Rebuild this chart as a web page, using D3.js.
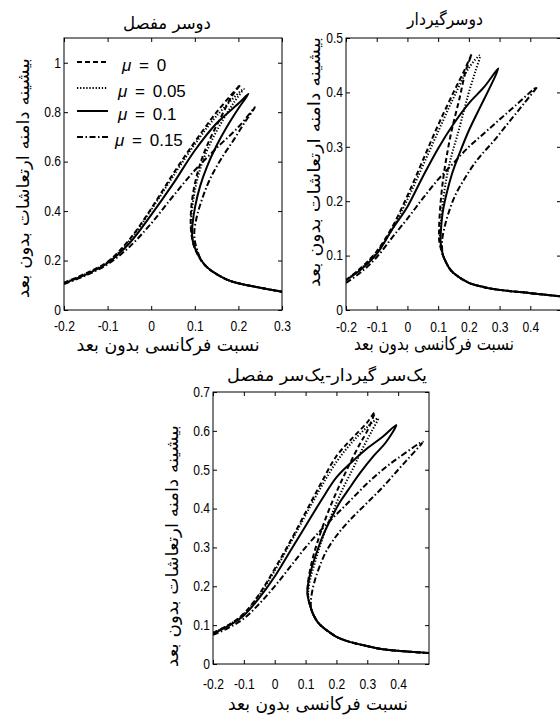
<!DOCTYPE html>
<html>
<head>
<meta charset="utf-8">
<script src="https://cdn.jsdelivr.net/npm/d3@7"></script>
<style>body{margin:0;background:#fff}</style>
</head>
<body>
<svg id="chart" width="560" height="722"></svg>
<script>
// values (x: frequency ratio, y: peak amplitude)
const muLabels = ["0", "0.05", "0.1", "0.15"];

// --- both ends hinged
const hingedLower = [[0.115,0.20],[0.13,0.17],[0.15,0.145],[0.175,0.122],[0.2,0.108],[0.25,0.09],[0.3,0.074]];
const hinged0 = [[-0.2,0.11],[-0.15,0.148],[-0.1,0.195],[-0.05,0.285],[0,0.41],[0.05,0.55],[0.1,0.68],[0.15,0.80],[0.205,0.912],
  [0.185,0.865],[0.16,0.78],[0.137,0.70],[0.118,0.62],[0.104,0.54],[0.095,0.46],[0.091,0.39],[0.091,0.33],[0.095,0.28],[0.102,0.24]];
const hinged05 = [[-0.2,0.11],[-0.15,0.146],[-0.1,0.193],[-0.05,0.28],[0,0.405],[0.05,0.54],[0.1,0.67],[0.15,0.785],[0.212,0.895],
  [0.19,0.84],[0.165,0.77],[0.14,0.69],[0.12,0.61],[0.106,0.53],[0.097,0.45],[0.092,0.38],[0.092,0.32],[0.096,0.275],[0.103,0.24]];
const hinged10 = [[-0.2,0.108],[-0.15,0.143],[-0.1,0.19],[-0.05,0.27],[0,0.385],[0.05,0.51],[0.1,0.645],[0.15,0.755],[0.2,0.835],[0.223,0.874],
  [0.2,0.815],[0.175,0.745],[0.15,0.665],[0.128,0.58],[0.112,0.5],[0.101,0.42],[0.095,0.35],[0.094,0.30],[0.098,0.26],[0.105,0.235]];
const hinged15 = [[-0.2,0.105],[-0.15,0.14],[-0.1,0.185],[-0.05,0.255],[0,0.35],[0.05,0.46],[0.1,0.565],[0.15,0.655],[0.2,0.74],[0.238,0.82],
  [0.215,0.76],[0.19,0.69],[0.16,0.61],[0.135,0.53],[0.117,0.45],[0.105,0.38],[0.099,0.32],[0.1,0.28],[0.105,0.245]];

// --- both ends clamped
const clampedLower = [[0.115,0.102],[0.122,0.092],[0.135,0.078],[0.15,0.068],[0.2,0.05],[0.25,0.042],[0.3,0.037],[0.4,0.031],[0.5,0.025]];
const clamped0 = [[-0.2,0.055],[-0.15,0.078],[-0.1,0.108],[-0.05,0.152],[0,0.21],[0.05,0.275],[0.1,0.34],[0.15,0.40],[0.185,0.44],[0.209,0.47],
  [0.19,0.44],[0.17,0.39],[0.144,0.33],[0.127,0.28],[0.115,0.235],[0.107,0.19],[0.103,0.15],[0.104,0.125]];
const clamped05 = [[-0.2,0.055],[-0.15,0.077],[-0.1,0.106],[-0.05,0.148],[0,0.203],[0.05,0.265],[0.1,0.328],[0.15,0.39],[0.2,0.445],[0.236,0.468],
  [0.222,0.44],[0.2,0.40],[0.182,0.362],[0.162,0.32],[0.144,0.285],[0.128,0.245],[0.116,0.2],[0.109,0.16],[0.106,0.13]];
const clamped10 = [[-0.2,0.055],[-0.15,0.075],[-0.1,0.103],[-0.05,0.148],[0,0.19],[0.05,0.245],[0.1,0.297],[0.15,0.342],[0.2,0.38],[0.25,0.41],[0.296,0.444],
  [0.265,0.405],[0.236,0.372],[0.2,0.33],[0.171,0.29],[0.145,0.25],[0.128,0.215],[0.115,0.18],[0.109,0.145],[0.108,0.125]];
const clamped15 = [[-0.2,0.05],[-0.15,0.07],[-0.1,0.097],[-0.05,0.133],[0,0.168],[0.05,0.205],[0.1,0.24],[0.15,0.27],[0.2,0.30],[0.25,0.325],[0.3,0.35],[0.35,0.375],[0.421,0.41],
  [0.38,0.38],[0.33,0.345],[0.28,0.31],[0.23,0.278],[0.19,0.245],[0.155,0.21],[0.132,0.175],[0.12,0.15],[0.113,0.128]];

// --- one end clamped, one end hinged
const mixedLower = [[0.118,0.142],[0.127,0.124],[0.14,0.107],[0.155,0.095],[0.17,0.086],[0.2,0.07],[0.243,0.057],[0.3,0.046],[0.35,0.038],[0.4,0.034],[0.5,0.028]];
const mixed0 = [[-0.2,0.08],[-0.15,0.1],[-0.1,0.13],[-0.05,0.18],[0,0.245],[0.05,0.315],[0.1,0.39],[0.15,0.465],[0.2,0.535],[0.25,0.58],[0.3,0.622],[0.324,0.648],
  [0.3,0.6],[0.275,0.565],[0.24,0.51],[0.21,0.46],[0.18,0.405],[0.156,0.355],[0.137,0.31],[0.124,0.275],[0.113,0.235],[0.107,0.2],[0.108,0.175]];
const mixed05 = [[-0.2,0.08],[-0.15,0.1],[-0.1,0.128],[-0.05,0.177],[0,0.24],[0.05,0.31],[0.1,0.383],[0.15,0.455],[0.2,0.52],[0.25,0.57],[0.3,0.61],[0.335,0.632],
  [0.315,0.6],[0.285,0.555],[0.255,0.505],[0.22,0.45],[0.19,0.395],[0.165,0.345],[0.145,0.3],[0.13,0.26],[0.117,0.225],[0.109,0.19],[0.109,0.17]];
const mixed10 = [[-0.2,0.078],[-0.15,0.098],[-0.1,0.125],[-0.05,0.17],[0,0.225],[0.05,0.29],[0.1,0.355],[0.15,0.42],[0.2,0.48],[0.25,0.52],[0.3,0.555],[0.35,0.585],[0.394,0.615],
  [0.36,0.57],[0.32,0.535],[0.275,0.49],[0.24,0.45],[0.21,0.415],[0.18,0.37],[0.156,0.33],[0.135,0.285],[0.119,0.245],[0.108,0.205],[0.106,0.18]];
const mixed15 = [[-0.2,0.075],[-0.15,0.093],[-0.1,0.117],[-0.05,0.155],[0,0.2],[0.05,0.25],[0.1,0.3],[0.15,0.345],[0.2,0.385],[0.25,0.425],[0.3,0.465],[0.35,0.5],[0.4,0.53],[0.48,0.572],
  [0.44,0.535],[0.4,0.5],[0.351,0.456],[0.3,0.415],[0.243,0.37],[0.2,0.33],[0.167,0.29],[0.145,0.25],[0.13,0.215],[0.121,0.185],[0.117,0.16]];

const xTicksA = [-0.2,-0.1,0,0.1,0.2,0.3];
const xTicksB = [-0.2,-0.1,0,0.1,0.2,0.3,0.4];
const yTicksA = [0,0.2,0.4,0.6,0.8,1];
const yTicksB = [0,0.1,0.2,0.3,0.4,0.5];
const yTicksC = [0,0.1,0.2,0.3,0.4,0.5,0.6,0.7];

const titles = ["دوسر مفصل", "دوسرگیردار", "یک\u200cسر گیردار-یک\u200cسر مفصل"];
const xTitle = "نسبت فرکانسی بدون بعد";
const yTitle = "بیشینه دامنه ارتعاشات بدون بعد";

const dashes = ["5,3", "1.3,1.8", null, "6,2.5,1.5,2.5"];
const faFont = "'DejaVu Sans', sans-serif";
const numFont = "'Liberation Sans', Arial, sans-serif";

// title/label spots: [x, y, width]
const panels = [
  {x:[-0.2,0.3], y:[0,1.1], box:[64,282,38,310], xt:xTicksA, yt:yTicksA, lower:hingedLower, gap:21,
   curves:[hinged0,hinged05,hinged10,hinged15], title:[167,29,88], xl:[168,351,183], yl:[29,178,240]},
  {x:[-0.2,0.5], y:[0,0.5], box:[346,561,38,310], xt:xTicksB, yt:yTicksB, lower:clampedLower, gap:22,
   curves:[clamped0,clamped05,clamped10,clamped15], title:[445,25,76], xl:[434,350,160], yl:[320,162,250]},
  {x:[-0.2,0.5], y:[0,0.7], box:[213,429,392,664], xt:xTicksB, yt:yTicksC, lower:mixedLower, gap:25,
   curves:[mixed0,mixed05,mixed10,mixed15], title:[327,381,200], xl:[318,710,180], yl:[178,546,242]}
];

const svg = d3.select("#chart");

// stretch a text horizontally to a target width (DejaVu Arabic is narrower than the original font)
function fitText(sel, cx, cy, w, rot){
  const len = sel.node().getComputedTextLength();
  sel.attr("transform", "translate(" + cx + "," + cy + ")" + (rot ? " rotate(-90)" : "") + " scale(" + (w / len) + ",1)");
}

panels.forEach(function(p, pi){
  const [l, r, t, b] = p.box;
  const x = d3.scaleLinear().domain(p.x).range([l, r]);
  const y = d3.scaleLinear().domain(p.y).range([b, t]);
  const g = svg.append("g");

  g.append("clipPath").attr("id", "clip" + pi)
    .append("rect").attr("x", l).attr("y", t).attr("width", r - l).attr("height", b - t);

  const line = d3.line()
    .x(d => x(d[0])).y(d => y(d[1]))
    .curve(d3.curveCatmullRom.alpha(0.5));

  g.append("g").attr("clip-path", "url(#clip" + pi + ")")
    .selectAll("path")
    .data(p.curves)
    .enter().append("path")
      .attr("d", d => line(d.concat(p.lower)))
      .attr("fill", "none")
      .attr("stroke", "#000")
      .attr("stroke-width", 2)
      .attr("stroke-dasharray", (d, i) => dashes[i]);

  // inward ticks on all four sides
  const xa = g.append("g").attr("transform", "translate(0," + b + ")")
    .call(d3.axisBottom(x).tickValues(p.xt).tickSize(-4).tickFormat(d => String(d)));
  xa.selectAll("text").attr("y", p.gap).attr("dy", null);
  g.append("g").attr("transform", "translate(0," + t + ")")
    .call(d3.axisTop(x).tickValues(p.xt).tickSize(-4).tickFormat(""));
  const ya = g.append("g").attr("transform", "translate(" + l + ",0)")
    .call(d3.axisLeft(y).tickValues(p.yt).tickSize(-4).tickFormat(d => String(d)));
  ya.selectAll("text").attr("x", -3 / 0.78).attr("dy", "0.28em");
  g.append("g").attr("transform", "translate(" + r + ",0)")
    .call(d3.axisRight(y).tickValues(p.yt).tickSize(-4).tickFormat(""));

  g.selectAll(".domain").remove();
  g.selectAll(".tick line").attr("stroke", "#000");
  g.selectAll(".tick text")
    .attr("font-family", numFont).attr("font-size", 15.5).attr("fill", "#000")
    .attr("transform", "scale(0.78,1)");

  g.append("rect").attr("x", l).attr("y", t).attr("width", r - l).attr("height", b - t)
    .attr("fill", "none").attr("stroke", "#000").attr("stroke-width", 1);

  const tt = g.append("text").attr("text-anchor", "middle")
    .attr("font-family", faFont).attr("font-size", 17).text(titles[pi]);
  fitText(tt, p.title[0], p.title[1], p.title[2], false);
  const xt = g.append("text").attr("text-anchor", "middle")
    .attr("font-family", faFont).attr("font-size", 18).text(xTitle);
  fitText(xt, p.xl[0], p.xl[1], p.xl[2], false);
  const yt = g.append("text").attr("text-anchor", "middle")
    .attr("font-family", faFont).attr("font-size", 17).text(yTitle);
  fitText(yt, p.yl[0], p.yl[1], p.yl[2], true);
});

// legend (first panel only)
const legendRows = [62, 88, 111, 137];
const legendTextX = [122, 118, 118, 115];
const leg = svg.append("g");
muLabels.forEach(function(m, i){
  leg.append("line")
    .attr("x1", 77).attr("x2", 108).attr("y1", legendRows[i]).attr("y2", legendRows[i])
    .attr("stroke", "#000").attr("stroke-width", 2)
    .attr("stroke-dasharray", dashes[i]);
  const tx = leg.append("text")
    .attr("x", legendTextX[i]).attr("y", legendRows[i] + 9)
    .attr("font-family", "'Liberation Sans', Arial, sans-serif").attr("font-size", 17)
    .attr("word-spacing", 3);
  tx.append("tspan").attr("font-style", "italic").text("μ");
  tx.append("tspan").text(" = " + m);
});
</script>
</body>
</html>
